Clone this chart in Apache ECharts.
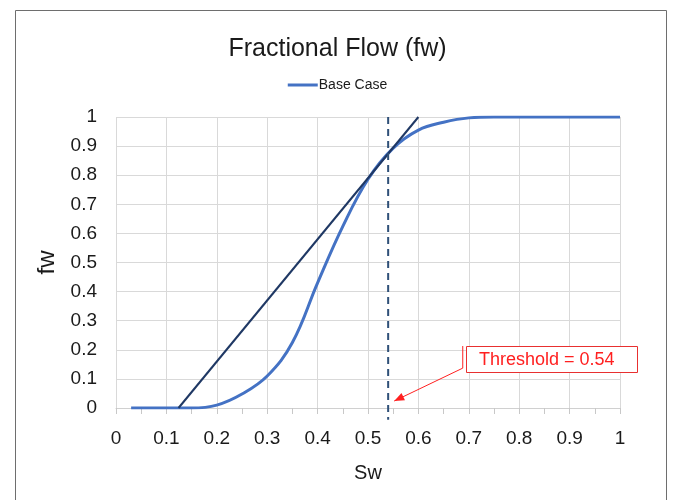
<!DOCTYPE html>
<html><head><meta charset="utf-8">
<script src="https://cdn.jsdelivr.net/npm/echarts@6/dist/echarts.min.js"></script>
<style>html,body{margin:0;padding:0;background:#fff}#c{width:675px;height:500px}</style>
</head><body><div id="c"></div>
<script>
var title = 'Fractional Flow (fw)';
var seriesName = 'Base Case';
var swValues = [0.03,0.1,0.15,0.2,0.25,0.3,0.35,0.4,0.45,0.5,0.55,0.6,0.65,0.7,0.75,0.8,0.85,0.9,0.95,1.0];
var fwValues = [0,0,0,0.01,0.048,0.11,0.225,0.43,0.624,0.786,0.893,0.955,0.982,0.997,1,1,1,1,1,1];
var tangentX = [0.124, 0.6];
var tangentY = [0, 1];
var threshold = 0.54;
var thresholdY = [1, -0.04];
var annotationText = 'Threshold = 0.54';
var calloutX = [0.688, 0.688, 0.552];
var calloutY = [0.213, 0.137, 0.024];
var boxAnchor = [0.694, 0.213];

var font = 'Liberation Sans';
var chart = echarts.init(document.getElementById('c'));
var option = {
  animation: false,
  textStyle: {fontFamily: font},
  title: {text: title, left: 'center', top: 32, textStyle: {fontFamily: font, fontSize: 25, fontWeight: 'normal', color: '#1a1a1a'}},
  legend: {data: [seriesName], top: 73, left: 'center', itemWidth: 30, itemHeight: 3, icon: 'rect', itemGap: 2,
    textStyle: {fontSize: 14, color: '#1a1a1a', padding: [0,0,0,-4]}},
  grid: {left: 116, right: 55, top: 117, bottom: 92},
  xAxis: {type: 'value', min: 0, max: 1, interval: 0.1, name: 'Sw', nameLocation: 'middle', nameGap: 55,
    nameTextStyle: {fontSize: 20, color: '#1a1a1a'},
    axisLine: {show: true, lineStyle: {color: '#d0d0d0'}},
    axisTick: {show: true, length: 6, lineStyle: {color: '#c8c8c8'}},
    minorTick: {show: true, splitNumber: 2, length: 6, lineStyle: {color: '#c8c8c8'}},
    axisLabel: {fontSize: 19, color: '#1a1a1a', margin: 21},
    splitLine: {show: true, lineStyle: {color: '#d9d9d9'}}},
  yAxis: {type: 'value', min: 0, max: 1, interval: 0.1, name: 'fw', nameLocation: 'middle', nameGap: 57, nameRotate: 90,
    nameTextStyle: {fontSize: 24, color: '#1a1a1a'},
    axisLine: {show: false}, axisTick: {show: false},
    axisLabel: {fontSize: 19, color: '#1a1a1a', margin: 19},
    splitLine: {show: true, lineStyle: {color: '#d9d9d9'}}},
  series: [
    {name: seriesName, type: 'line', smooth: 0.4, symbol: 'none', lineStyle: {color: '#4472C4', width: 3}, itemStyle: {color: '#4472C4'},
      data: swValues.map(function(x,i){return [x, fwValues[i]];}), z: 3},
    {name: 'tangent', type: 'line', symbol: 'none', lineStyle: {color: '#1F3864', width: 2},
      data: tangentX.map(function(x,i){return [x, tangentY[i]];}), z: 4},
    {name: 'threshold', type: 'line', symbol: 'none', clip: false, lineStyle: {color: '#2F5078', width: 2, type: [7,5]},
      data: thresholdY.map(function(y){return [threshold, y];}), z: 5},
    {name: 'callout', type: 'line', symbol: 'none', lineStyle: {color: '#FF2020', width: 1},
      data: calloutX.map(function(x,i){return [x, calloutY[i]];}), z: 6}
  ]
};
chart.setOption(option);
var p0 = chart.convertToPixel({xAxisIndex:0, yAxisIndex:0}, boxAnchor);
var tipA = chart.convertToPixel({xAxisIndex:0, yAxisIndex:0}, [calloutX[1], calloutY[1]]);
var tipB = chart.convertToPixel({xAxisIndex:0, yAxisIndex:0}, [calloutX[2], calloutY[2]]);
var ang = Math.atan2(tipB[1]-tipA[1], tipB[0]-tipA[0]);
var hl = 10, hw = 4;
var bx = tipB[0] - hl*Math.cos(ang), by = tipB[1] - hl*Math.sin(ang);
chart.setOption({graphic: [
  {type: 'rect', shape: {x: 15.5, y: 10.5, width: 651, height: 520}, style: {fill: 'none', stroke: '#6e6e6e', lineWidth: 1}, silent: true, z: -10},
  {type: 'polygon', shape: {points: [[tipB[0], tipB[1]], [bx - hw*Math.sin(ang), by + hw*Math.cos(ang)], [bx + hw*Math.sin(ang), by - hw*Math.cos(ang)]]},
    style: {fill: '#FF2020'}, z: 100},
  {type: 'rect', shape: {x: Math.round(p0[0])+0.5, y: Math.round(p0[1])+0.5, width: 171, height: 26}, style: {fill: '#fff', stroke: '#E83030', lineWidth: 1}, z: 100},
  {type: 'text', x: Math.round(p0[0]) + 13, y: Math.round(p0[1]) + 14, style: {text: annotationText, fill: '#FF2020', font: '18px ' + font, textVerticalAlign: 'middle'}, z: 101}
]});
</script></body></html>
